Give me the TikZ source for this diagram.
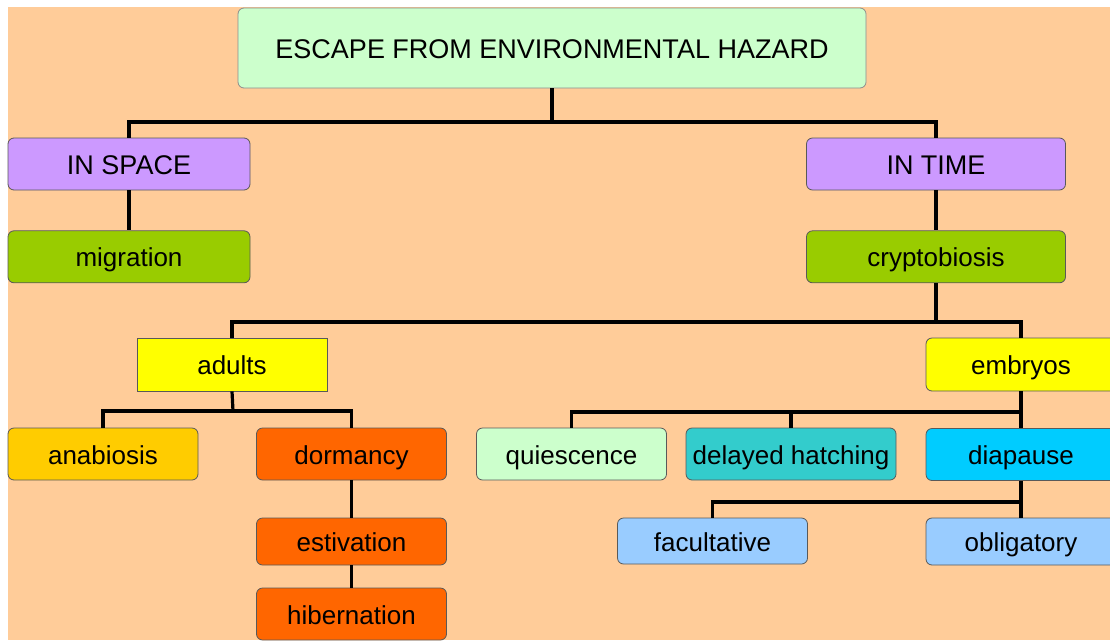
\documentclass[tikz,border=0pt]{standalone}
\usepackage{fontspec}
\setmainfont{Liberation Sans}
\usetikzlibrary{positioning}

\definecolor{bgpeach}{HTML}{FFCC99}
\definecolor{palegreen}{HTML}{CCFFCC}
\definecolor{lilac}{HTML}{CC99FF}
\definecolor{leaf}{HTML}{99CC00}
\definecolor{lemon}{HTML}{FFFF00}
\definecolor{gold}{HTML}{FFCC00}
\definecolor{tangerine}{HTML}{FF6600}
\definecolor{teal}{HTML}{33CCCC}
\definecolor{aqua}{HTML}{00CCFF}
\definecolor{skyblue}{HTML}{99CCFF}

\begin{document}
\begin{tikzpicture}[x=1pt,y=-1pt]

\tikzset{
     element/.style={
     	rounded corners=6pt,
     	rectangle,
  	 	draw=black!65,
  	 	line width=0.8pt,
  	 	inner sep=0pt,
  	 	font=\fontsize{26}{30}\selectfont,
  	 	text height=20pt,text depth=0pt,
  	 	minimum height=52pt,minimum width=190pt
     }
}

\tikzset{
	capstitle/.style={
		font=\fontsize{27}{30}\selectfont
	}
}

\tikzset{
	link/.style={
		line width=3.2pt,
		black
	}
}

\tikzset{
	thinlink/.style={
		line width=2.2pt,
		black
	}
}

\def\ecart{40pt}

% page and background
\useasboundingbox (0,0) rectangle (1110,640);
\fill[bgpeach] (8,7) rectangle (1110,640);

% root
\node[element,capstitle,fill=palegreen,draw=black!45,minimum width=628pt,minimum height=80pt] (escape) at (552,48) {ESCAPE FROM ENVIRONMENTAL HAZARD};

% in space
\node[element,capstitle,fill=lilac,minimum width=242pt] (inspace) at (129,164) {IN SPACE};
\node[element,fill=leaf,minimum width=242pt,below=\ecart of inspace] (migration) {migration};

% in time
\node[element,capstitle,fill=lilac,minimum width=259pt] (intime) at (936,164) {IN TIME};
\node[element,fill=leaf,minimum width=259pt,below=\ecart of intime] (crypto) {cryptobiosis};

% adults
\node[element,sharp corners,fill=lemon,minimum height=53pt] (adults) at (232,364.5) {adults};
\node[element,fill=gold] (anabiosis) at (103,454) {anabiosis};
\node[element,fill=tangerine] (dormancy) at (351.5,454) {dormancy};
\node[element,fill=tangerine,minimum height=47pt] (estivation) at (351.5,541.5) {estivation};
\node[element,fill=tangerine] (hibernation) at (351.5,614) {hibernation};

% embryos
\node[element,fill=lemon,minimum height=53pt] (embryos) at (1021,364.5) {embryos};
\node[element,fill=palegreen] (quiescence) at (571.5,454) {quiescence};
\node[element,fill=teal,minimum width=210pt] (delayed) at (791,454) {delayed hatching};
\node[element,fill=aqua] (diapause) at (1021,454.5) {diapause};
\node[element,fill=skyblue,minimum height=46pt] (facultative) at (712.5,541) {facultative};
\node[element,fill=skyblue,minimum height=47pt] (obligatory) at (1021,541.5) {obligatory};

% junction points
\coordinate (j1) at (552,122);
\coordinate (j2) at (936,322);
\coordinate (j3) at (233,411);
\coordinate (j4) at (1021,412);
\coordinate (j5) at (1021,502);

% connectors
\draw[link] (escape.south) -- (j1);
\draw[link] (inspace.north) |- (j1) -| (intime.north);
\draw[link] (inspace) -- (migration);
\draw[link] (intime) -- (crypto);
\draw[link] (crypto.south) -- (j2);
\draw[link] (adults.north) |- (j2) -| (embryos.north);
\draw[link] (adults.south) -- (j3);
\draw[link] (anabiosis.north) |- (j3) -| (dormancy.north);
\draw[thinlink] (dormancy) -- (estivation);
\draw[thinlink] (estivation) -- (hibernation);
\draw[link] (embryos) -- (diapause);
\draw[link] (quiescence.north) |- (j4);
\draw[link] (delayed.north) -- (delayed.north |- j4);
\draw[link] (diapause) -- (obligatory);
\draw[link] (facultative.north) |- (j5);

\end{tikzpicture}
\end{document}
